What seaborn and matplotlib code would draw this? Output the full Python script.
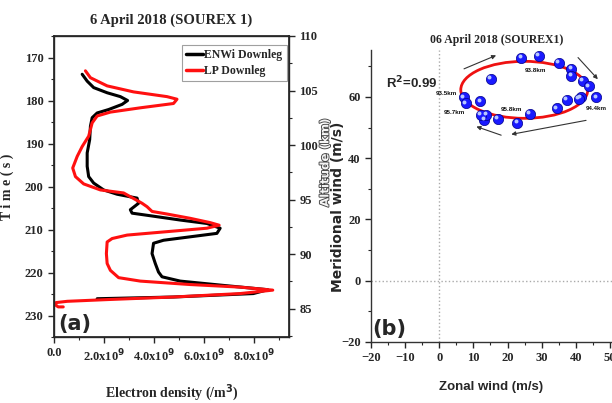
import numpy as np
import pandas as pd
import matplotlib
matplotlib.use("Agg")
import matplotlib.pyplot as plt
import matplotlib.patheffects as pe
import matplotlib.transforms as mtransforms
from matplotlib.patches import Ellipse
from matplotlib.ticker import MultipleLocator, FuncFormatter
import seaborn as sns

sns.set_theme(style="ticks")
plt.rcParams["font.family"] = ["Liberation Serif", "DejaVu Sans"]
plt.rcParams["font.weight"] = "bold"

# ---------------- (a) electron density profiles (downleg) ----------------
enwi_time = [173.9, 175.5, 177.0, 178.2, 179.1, 180.0, 180.9, 182.1, 182.9, 184.0,
             186.0, 189.1, 192.2, 195.3, 197.7, 199.2, 200.8, 201.8, 202.7, 203.9,
             205.4, 206.2, 206.8, 207.8, 208.6, 209.7, 210.9, 211.7, 212.5, 213.2,
             215.6, 217.9, 219.9, 221.0, 222.0, 223.0, 224.0, 224.9, 225.7, 226.1]
enwi_ne = [1.11, 1.31, 1.57, 2.11, 2.64, 2.93, 2.71, 2.17, 1.71, 1.51,
           1.44, 1.41, 1.31, 1.31, 1.37, 1.57, 1.97, 2.51, 3.31, 3.37,
           3.04, 3.11, 3.84, 5.04, 6.11, 6.64, 6.51, 5.44, 4.37, 3.97,
           3.91, 4.04, 4.17, 4.31, 5.04, 6.77, 8.55, 7.97, 4.77, 1.71]

lp_time = [173.1, 174.7, 176.6, 178.0, 179.1, 179.7, 180.7, 181.7, 182.7, 183.6,
           185.2, 188.3, 190.7, 193.0, 195.7, 197.7, 199.4, 200.8, 201.5, 203.9,
           204.7, 205.8, 206.4, 207.4, 208.4, 209.0, 209.7, 210.5, 211.3, 212.1,
           212.9, 215.6, 217.9, 219.5, 221.2, 222.0, 222.8, 223.4, 224.1, 224.9,
           225.7, 226.3, 226.7, 227.0, 227.6, 228.0, 228.0]
lp_ne = [1.24, 1.44, 2.11, 3.17, 4.51, 4.91, 4.77, 3.44, 2.24, 1.71,
         1.51, 1.37, 1.11, 0.91, 0.73, 0.84, 1.17, 1.84, 2.77, 3.51,
         3.71, 3.91, 4.51, 5.44, 6.24, 6.60, 6.11, 4.51, 2.91, 2.31,
         2.11, 2.08, 2.11, 2.24, 2.57, 3.44, 5.44, 7.44, 8.75, 7.44,
         4.77, 2.11, 0.51, 0.06, 0.05, 0.15, 0.35]

density_ticks = [0.0, 2.0, 4.0, 6.0, 8.0]          # in units of 1e9 /m^3
time_ticks = [170, 180, 190, 200, 210, 220, 230]
altitude_ticks = [85, 90, 95, 100, 105, 110]

# ---------------- (b) wind hodograph ----------------
zonal_wind = [24.0, 29.1, 35.0, 38.7, 38.7, 42.1, 43.9, 46.0, 41.5, 40.8, 37.4,
              34.5, 26.5, 22.9, 17.2, 13.2, 13.8, 12.2, 12.0, 7.1, 7.8, 15.2]
meridional_wind = [72.7, 73.4, 71.2, 69.1, 66.9, 65.3, 63.4, 59.8, 59.9, 59.4, 59.0,
                   56.3, 54.4, 51.6, 52.8, 52.5, 54.1, 54.1, 58.5, 59.8, 57.9, 65.9]
fit_center = (24.9, 62.3)
fit_width = 37.2
fit_height = 18.6
r_squared = 0.99

alt_labels = ["93.8km", "93.5km", "95.7km", "95.8km", "94.4km"]
alt_label_u = [28.2, 2.1, 4.5, 21.1, 46.0]
alt_label_v = [68.7, 61.2, 54.9, 55.8, 56.3]

arrow_start = [(6.5, 68.8), (40.1, 73.5), (43.8, 52.5), (18.9, 47.2)]
arrow_end = [(17.4, 73.9), (47.0, 65.1), (20.3, 47.6), (10.1, 50.6)]

zonal_ticks = [-20, -10, 0, 10, 20, 30, 40, 50]
merid_ticks = [-20, 0, 20, 40, 60]

W, H = 612, 403
fig = plt.figure(figsize=(W / 100, H / 100), dpi=100)

def px_axes(left, top, right, bottom):
    return fig.add_axes([left / W, 1 - bottom / H, (right - left) / W, (bottom - top) / H])

serif_b = dict(family=["Liberation Serif", "DejaVu Serif"], weight="bold")
sans_n = ["Liberation Sans", "DejaVu Sans"]

# ---- panel (a)
ax = px_axes(54, 36, 289, 337)
prof = pd.concat([
    pd.DataFrame({"ne": np.array(enwi_ne) * 1e9, "time": enwi_time, "src": "ENWi Downleg"}),
    pd.DataFrame({"ne": np.array(lp_ne) * 1e9, "time": lp_time, "src": "LP Downleg"}),
])
sns.lineplot(data=prof, x="ne", y="time", hue="src", sort=False, estimator=None,
             palette={"ENWi Downleg": "black", "LP Downleg": "#ff1010"},
             linewidth=2.2, ax=ax)
ax.set_xlim(-0.02e9, 9.4e9)
ax.set_ylim(235, 165)
ax.set_xticks([v * 1e9 for v in density_ticks])
ax.xaxis.set_minor_locator(MultipleLocator(1e9))
ax.yaxis.set_minor_locator(MultipleLocator(5))
ax.set_yticks(time_ticks)

def dens_fmt(v, _):
    if abs(v) < 1:
        return "0.0"
    return r"%.1fx10$^{\mathbf{9}}$" % (v / 1e9)

ax.xaxis.set_major_formatter(FuncFormatter(dens_fmt))
ax.tick_params(which="major", length=4, width=1, direction="out", labelsize=9)
ax.tick_params(which="minor", length=2.5, width=0.8, direction="out")
for lab in ax.get_xticklabels() + ax.get_yticklabels():
    lab.set_fontfamily(serif_b["family"]); lab.set_fontweight("bold")
for s in ax.spines.values():
    s.set_color("#333333"); s.set_linewidth(1)

ax.set_xlabel(r"Electron density (/m$^{\mathbf{3}}$)", fontsize=10, labelpad=13, **serif_b)
ax.set_ylabel("T i m e ( s )", fontsize=10, labelpad=8, **serif_b)
ax.set_title("6 April 2018 (SOUREX 1)", fontsize=10.5, pad=9, **serif_b)

leg = ax.legend(loc="upper right", bbox_to_anchor=(0.99, 0.97), frameon=True,
                fancybox=False, edgecolor="#888888", handlelength=1.4,
                handletextpad=0.15, borderpad=0.35, labelspacing=0.3,
                borderaxespad=0,
                prop=dict(family=serif_b["family"], weight="bold", size=8.5))
leg.get_frame().set_linewidth(0.8)
for ln in leg.get_lines():
    ln.set_linewidth(2.5)

ax.text(0.02, 0.01, "(a)", transform=ax.transAxes, fontsize=15, weight="bold",
        family=["DejaVu Sans"], ha="left", va="bottom")

ax2 = ax.twinx()
ax2.set_ylim(82.4, 110)
ax2.set_yticks(altitude_ticks)
ax2.yaxis.set_minor_locator(MultipleLocator(2.5))
ax2.tick_params(which="major", length=4, width=1, direction="out", labelsize=9)
ax2.tick_params(which="minor", length=2.5, width=0.8, direction="out")
for lab in ax2.get_yticklabels():
    lab.set_fontfamily(serif_b["family"]); lab.set_fontweight("bold")
ax2.set_ylabel("Altitude (km)", fontsize=8.5, color="#f4f4f4", weight="bold",
               family=["DejaVu Sans"])
ax2.yaxis.label.set_path_effects([pe.withStroke(linewidth=1.3, foreground="#444444")])
ax2.yaxis.label.set_verticalalignment("center")
ax2.yaxis.set_label_coords(1.153, 0.578)

# ---- panel (b)
bx = px_axes(371, 50, 612, 342)
wind = pd.DataFrame({"u": zonal_wind, "v": meridional_wind})
bx.axvline(0, color="#aaaaaa", linestyle=":", linewidth=1)
bx.axhline(0, color="#aaaaaa", linestyle=":", linewidth=1)
bx.add_patch(Ellipse(fit_center, fit_width, fit_height, fill=False,
                     edgecolor="#ee1111", linewidth=2))
sns.scatterplot(data=wind, x="u", y="v", color="#1a1aff", edgecolor="#000088",
                linewidth=0.5, s=55, ax=bx, zorder=4)
hl = mtransforms.offset_copy(bx.transData, fig=fig, x=-1.2, y=1.2, units="points")
bx.scatter(zonal_wind, meridional_wind, s=8, color="#b8c8ff", linewidth=0,
           transform=hl, zorder=5)
for (x0, y0), (x1, y1) in zip(arrow_start, arrow_end):
    bx.annotate("", xy=(x1, y1), xytext=(x0, y0),
                arrowprops=dict(arrowstyle="-|>", color="#333333", lw=0.8,
                                mutation_scale=6))
for t, u, v in zip(alt_labels, alt_label_u, alt_label_v):
    bx.text(u, v, t, fontsize=4.5, ha="center", va="center",
            family=sans_n, color="#111111")

bx.set_xlim(-20, 50.6)
bx.set_ylim(-20, 75.3)
bx.set_xticks(zonal_ticks)
bx.set_yticks(merid_ticks)
bx.xaxis.set_minor_locator(MultipleLocator(5))
bx.yaxis.set_minor_locator(MultipleLocator(10))
bx.tick_params(which="major", length=4, width=1, direction="out", labelsize=9)
bx.tick_params(which="minor", length=2.5, width=0.8, direction="out")
for lab in bx.get_xticklabels() + bx.get_yticklabels():
    lab.set_fontfamily(serif_b["family"]); lab.set_fontweight("bold")
sns.despine(ax=bx)
for s in ("left", "bottom"):
    bx.spines[s].set_color("#333333"); bx.spines[s].set_linewidth(1)

bx.set_xlabel("Zonal wind (m/s)", fontsize=9.5, labelpad=12, weight="bold",
              family=sans_n)
bx.set_ylabel("Meridional wind (m/s)", fontsize=10, weight="bold", family=["DejaVu Sans"])
bx.yaxis.label.set_verticalalignment("center")
bx.yaxis.set_label_coords(-0.139, 0.462)
bx.set_title("06 April 2018 (SOUREX1)", fontsize=8.5, pad=5, x=0.52, **serif_b)
bx.text(-15.7, 64.5, r"R$^{\mathbf{2}}$=%.2f" % r_squared, fontsize=9.5, weight="bold",
        family=sans_n, ha="left", va="center")
bx.text(-19.7, -19, "(b)", fontsize=15, weight="bold", family=["DejaVu Sans"],
        ha="left", va="bottom")

fig.savefig("out.png", dpi=100)
